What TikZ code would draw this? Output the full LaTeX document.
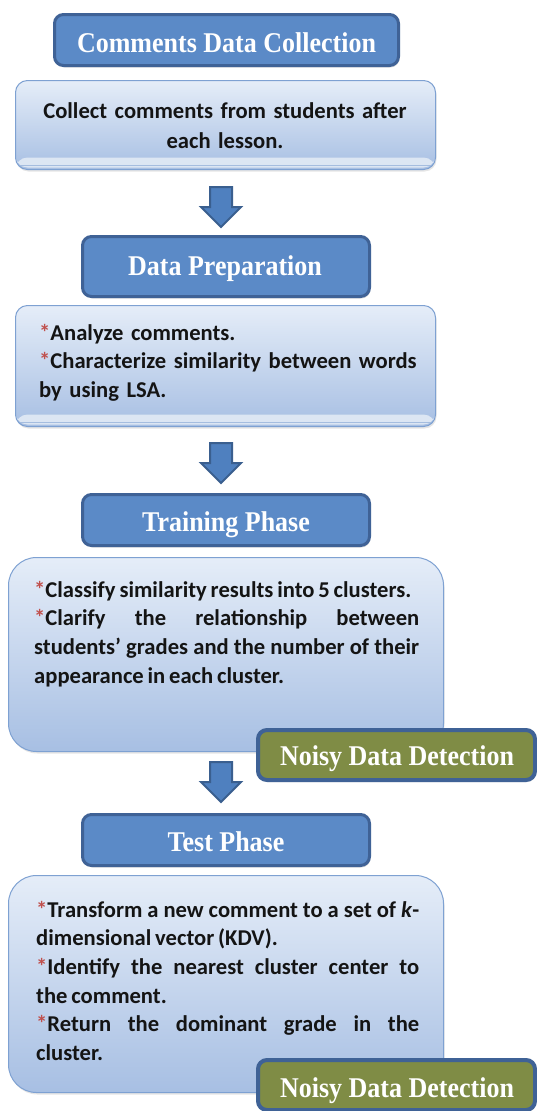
\documentclass[tikz,border=0pt]{standalone}
\usepackage{fontspec}
\usepackage{graphicx}
\newfontfamily\hdrfont{Liberation Serif}
\newfontfamily\bodyfont{Carlito}[WordSpace=0.75]
\usetikzlibrary{shadows}
\definecolor{hdrfill}{HTML}{5B8AC7}
\definecolor{hdrdraw}{HTML}{3F6296}
\definecolor{olivefill}{HTML}{7F8C45}
\definecolor{lighttop}{HTML}{E5EDF8}
\definecolor{lightbot}{HTML}{A7BFE3}
\definecolor{lightdraw}{HTML}{7EA1D2}
\definecolor{bandc}{HTML}{DCE6F3}
\definecolor{arrowfill}{HTML}{4F80BF}
\definecolor{arrowdraw}{HTML}{3A5F8F}
\definecolor{astred}{HTML}{C0504D}
\definecolor{bodyc}{HTML}{141414}
\newcommand\redast{\textcolor{astred}{*}}
\newcommand\tallhdr[1]{\scalebox{1}[1.1]{#1}}
\tikzset{
  hdrbox/.style={draw=hdrdraw, line width=3pt, fill=hdrfill, rounded corners=9pt, inner sep=0pt,
    drop shadow={opacity=0.25, shadow xshift=1pt, shadow yshift=-2pt}},
  noisybox/.style={hdrbox, fill=olivefill, line width=4pt},
  hdrtext/.style={anchor=base, text=white, inner sep=0pt,
    font=\hdrfont\bfseries\fontsize{26}{30}\selectfont},
  lightbox/.style={draw=lightdraw, line width=1pt, top color=lighttop, bottom color=lightbot,
    rounded corners=12pt, inner sep=0pt,
    drop shadow={opacity=0.2, shadow xshift=1pt, shadow yshift=-2pt}},
  bigbox/.style={lightbox, rounded corners=28pt},
  banded/.style={path picture={
      \fill[bandc] ([yshift=2pt]path picture bounding box.south west) rectangle ([yshift=12pt]path picture bounding box.south east);
      \draw[lightdraw!70, line width=0.8pt] ([yshift=4pt]path picture bounding box.south west) -- ([yshift=4pt]path picture bounding box.south east);}},
  bodytext/.style={font=\bodyfont\bfseries\fontsize{22.6}{28.7}\selectfont, text=bodyc, inner sep=0pt},
  blockarrow/.style={fill=arrowfill, draw=arrowdraw, line width=2pt, line join=miter},
  downarrow/.pic={\path[blockarrow] (-11,0) -- (11,0) -- (11,20) -- (20,20) -- (0,40) -- (-20,20) -- (-11,20) -- cycle;}
}
\begin{document}
\begin{tikzpicture}[x=1pt, y=-1pt]
\useasboundingbox (0,0) rectangle (537,1111);
\fill[white] (0,0) rectangle (537,1111);

% stage 1
\node[hdrbox, minimum width=344pt, minimum height=51pt] (b1) at (226.5,40) {};
\node[hdrtext] (h1) at (226.5,52) {\tallhdr{Comments Data Collection}};
\node[lightbox, banded, minimum width=420pt, minimum height=89pt] (l1) at (225.5,125) {};
\node[bodytext, font=\bodyfont\bfseries\fontsize{22.6}{30}\selectfont, text width=400pt, align=center, anchor=base] (t1) at (225,118)
  {Collect comments from students after\\ each lesson.};

\pic at (221,187) {downarrow};

% stage 2
\node[hdrbox, minimum width=287pt, minimum height=60pt] (b2) at (226,266.5) {};
\node[hdrtext] (h2) at (225,275) {\tallhdr{Data Preparation}};
\node[lightbox, banded, minimum width=420pt, minimum height=121pt] (l2) at (225.5,366) {};
\node[bodytext, text width=390pt, align=left, anchor=base west] (t2) at (39,340)
  {\redast Analyze comments.\\ \redast Characterize similarity between words\\ by using LSA.};

\pic at (221,443) {downarrow};

% stage 3
\node[hdrbox, minimum width=287pt, minimum height=51pt] (b3) at (226,520) {};
\node[hdrtext] (h3) at (226,531) {\tallhdr{Training Phase}};
\node[bigbox, minimum width=435pt, minimum height=194pt] (l3) at (226,654.5) {};
\node[bodytext, text width=385pt, align=justify, anchor=base west] (t3) at (34,597)
  {\redast Classify similarity results into 5 clusters.\par
   \redast Clarify the relationship between\linebreak students’ grades and the number of their\linebreak appearance in each cluster.};
\node[noisybox, minimum width=277pt, minimum height=50pt] (n1) at (396.5,755) {};
\node[hdrtext] (nt1) at (397,765) {\tallhdr{Noisy Data Detection}};

\pic at (221,762) {downarrow};

% stage 4
\node[hdrbox, minimum width=287pt, minimum height=51pt] (b4) at (226,840) {};
\node[hdrtext] (h4) at (226,851) {\tallhdr{Test Phase}};
\node[bigbox, minimum width=435pt, minimum height=217pt] (l4) at (226,984) {};
\node[bodytext, text width=383pt, align=justify, anchor=base west] (t4) at (36,917)
  {\redast Transform a new comment to a set of \textit{k}-\linebreak dimensional vector (KDV).\par
   \redast Identify the nearest cluster center to\linebreak the comment.\par
   \redast Return the dominant grade in the\linebreak cluster.};
\node[noisybox, minimum width=277pt, minimum height=50pt] (n2) at (396.5,1085) {};
\node[hdrtext] (nt2) at (397,1097) {\tallhdr{Noisy Data Detection}};
\end{tikzpicture}
\end{document}
